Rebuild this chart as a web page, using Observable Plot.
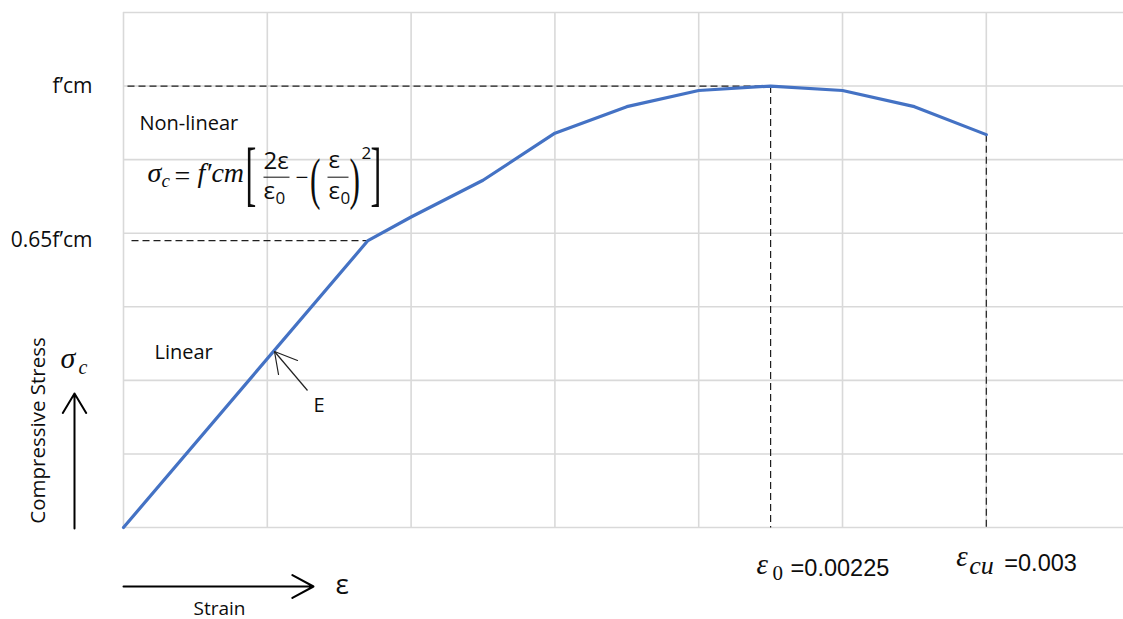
<!DOCTYPE html>
<html>
<head>
<meta charset="utf-8">
<script src="https://cdn.jsdelivr.net/npm/d3@7"></script>
<script src="https://cdn.jsdelivr.net/npm/@observablehq/plot@0.6"></script>
<style>
  html, body { margin: 0; padding: 0; background: #fff; overflow: hidden; }
  #chart svg { display: block; }
</style>
</head>
<body>
<div id="chart"></div>
<script>
// ---- data ----
const strain = [0, 0.00085, 0.001, 0.00125, 0.0015, 0.00175, 0.002, 0.00225, 0.0025, 0.00275, 0.003];
const stress = [0, 19.5, 21.1, 23.6, 26.8, 28.6, 29.7, 30, 29.7, 28.6, 26.7];
const gridStrain = [0, 0.0005, 0.001, 0.0015, 0.002, 0.0025, 0.003];
const gridStress = [0, 5, 10, 15, 20, 25, 30, 35];
const fcm = 30;
const eps0 = 0.00225;
const epsCu = 0.003;
const yTickValues = [19.5, 30];
const yTickLabels = ["0.65f’cm", "f’cm"];

// ---- layout ----
const W = 1123, H = 619, ML = 123, MT = 12, MB = 92, MR = 0;
const xDomain = [0, 0.003477], yDomain = [0, 35];
// helpers to place decorations given in page pixels into data units
const X = p => xDomain[0] + (p - ML) / (W - MR - ML) * (xDomain[1] - xDomain[0]);
const Y = p => yDomain[0] + (H - MB - p) / (H - MB - MT) * (yDomain[1] - yDomain[0]);

const curve = strain.map((s, i) => ({strain: s, stress: stress[i]}));
const last = curve[curve.length - 1];
const guides = [
  {x1: X(127), y1: fcm, x2: eps0, y2: fcm},
  {x1: X(131), y1: stress[1], x2: strain[1], y2: stress[1]},
  {x1: eps0, y1: fcm, x2: eps0, y2: 0},
  {x1: epsCu, y1: last.stress, x2: epsCu, y2: 0}
];

const SANS = "'Open Sans', sans-serif";
const SERIF = "'Liberation Serif', 'DejaVu Serif', serif";
const ARIAL = "'Liberation Sans', Arial, sans-serif";
const INK = "#0d0d0d";

const note = (text, px, py, o = {}) => Plot.text([text], {
  x: X(px), y: Y(py), text: d => d,
  textAnchor: "start", lineAnchor: "bottom",
  fill: INK, fontSize: 20, fontFamily: SANS, ...o
});
// fraction bar of the formula
const bar = (p1, p2, py) => Plot.link([0], {x1: X(p1), x2: X(p2), y1: Y(py), y2: Y(py),
  stroke: "#222", strokeWidth: 1.1});

const plot = Plot.plot({
  width: W, height: H,
  marginLeft: ML, marginTop: MT, marginBottom: MB, marginRight: MR,
  x: {domain: xDomain, axis: null},
  y: {domain: yDomain, axis: null},
  style: {fontFamily: SANS, fontSize: "20px", background: "#fff", color: INK, overflow: "visible"},
  marks: [
    // grid
    Plot.ruleX(gridStrain, {stroke: "#d9d9d9", strokeWidth: 1.6}),
    Plot.ruleY(gridStress, {stroke: "#d9d9d9", strokeWidth: 1.6}),
    // y tick labels
    Plot.axisY(yTickValues, {
      anchor: "left", tickSize: 0, tickPadding: 31, label: null,
      tickFormat: d => yTickLabels[yTickValues.indexOf(d)],
      fontSize: 21, fontFamily: SANS, fill: INK
    }),
    // dashed guides
    Plot.link(guides, {x1: "x1", y1: "y1", x2: "x2", y2: "y2",
      stroke: "#1f1f1f", strokeWidth: 1.2, strokeDasharray: "7,4"}),
    // the curve
    Plot.line(curve, {x: "strain", y: "stress", stroke: "#4472C4", strokeWidth: 3.2,
      strokeLinejoin: "round", strokeLinecap: "round"}),

    // region labels
    note("Non-linear", 139, 129),
    note("Linear", 154, 358),
    note("E", 313, 411),
    // E arrow
    Plot.link([0], {x1: X(307), y1: Y(390), x2: X(274), y2: Y(351), stroke: "#222", strokeWidth: 1.2}),
    Plot.line([[297, 360], [274, 351], [278, 374]].map(([a, b]) => [X(a), Y(b)]),
      {stroke: "#222", strokeWidth: 1.2, strokeLinejoin: "miter"}),

    // formula  σc = f′cm [ 2ε/ε0 − (ε/ε0)^2 ]
    note("σ", 147, 181, {fontFamily: SERIF, fontStyle: "italic", fontSize: 28}),
    note("c", 161, 186, {fontFamily: SERIF, fontStyle: "italic", fontSize: 19}),
    note("=", 174, 184, {fontFamily: SERIF, fontSize: 28}),
    note("f′cm", 197, 181, {fontFamily: SERIF, fontStyle: "italic", fontSize: 28}),
    note("[", 245, 196, {fontFamily: SERIF, fontSize: 72}),
    note("2ε", 263, 168, {fontSize: 24}),
    bar(263, 289, 176.7),
    note("ε", 263, 198, {fontSize: 24}),
    note("0", 275, 203, {fontSize: 17}),
    note("−", 295, 184, {fontFamily: SERIF, fontSize: 23}),
    note("(", 309.5, 197, {fontFamily: SERIF, fontSize: 57}),
    note("ε", 328, 167, {fontSize: 24}),
    bar(327, 348, 176.7),
    note("ε", 328, 198, {fontSize: 24}),
    note("0", 340, 203, {fontSize: 17}),
    note(")", 349, 197, {fontFamily: SERIF, fontSize: 57}),
    note("2", 361, 158, {fontSize: 17}),
    note("]", 370, 196, {fontFamily: SERIF, fontSize: 72}),

    // axis captions
    Plot.text(["Compressive Stress"], {x: X(44), y: Y(430), text: d => d, rotate: -90,
      textAnchor: "middle", lineAnchor: "bottom", fill: INK, fontSize: 20.5, fontFamily: SANS}),
    note("σ", 60, 367, {fontFamily: SERIF, fontStyle: "italic", fontSize: 30}),
    note("c", 78, 373, {fontFamily: SERIF, fontStyle: "italic", fontSize: 20}),
    Plot.arrow([0], {x1: X(74), y1: Y(528), x2: X(74), y2: Y(393),
      stroke: "#000", strokeWidth: 2, headLength: 17, headAngle: 62}),
    Plot.arrow([0], {x1: X(123), y1: Y(586), x2: X(313), y2: Y(586),
      stroke: "#000", strokeWidth: 2, headLength: 18, headAngle: 57}),
    note("ε", 335, 593, {fontSize: 28}),
    note("Strain", 193, 614, {fontSize: 19}),

    // strain value labels
    Plot.text([eps0], {x: d => d, y: Y(573), dx: -14, text: () => "ε", textAnchor: "start",
      lineAnchor: "bottom", fill: INK, fontFamily: SERIF, fontStyle: "italic", fontSize: 29}),
    Plot.text([eps0], {x: d => d, y: Y(579), dx: 2, text: () => "0", textAnchor: "start",
      lineAnchor: "bottom", fill: INK, fontFamily: SERIF, fontSize: 21}),
    Plot.text([eps0], {x: d => d, y: Y(575), dx: 20, text: d => "=" + d, textAnchor: "start",
      lineAnchor: "bottom", fill: INK, fontFamily: ARIAL, fontSize: 23.5}),
    Plot.text([epsCu], {x: d => d, y: Y(565), dx: -30, text: () => "ε", textAnchor: "start",
      lineAnchor: "bottom", fill: INK, fontFamily: SERIF, fontStyle: "italic", fontSize: 29}),
    Plot.text([epsCu], {x: d => d, y: Y(573), dx: -17, text: () => "cu", textAnchor: "start",
      lineAnchor: "bottom", fill: INK, fontFamily: SERIF, fontStyle: "italic", fontSize: 26}),
    Plot.text([epsCu], {x: d => d, y: Y(570), dx: 18, text: d => "=" + d, textAnchor: "start",
      lineAnchor: "bottom", fill: INK, fontFamily: ARIAL, fontSize: 23.5})
  ]
});

// slim the stretchy delimiters horizontally (they stand in for Cambria Math's tall brackets)
plot.querySelectorAll("text").forEach(t => {
  const s = t.textContent;
  if (s === "[" || s === "]") t.setAttribute("transform", (t.getAttribute("transform") || "") + " scale(0.45,1)");
  if (s === "(" || s === ")") t.setAttribute("transform", (t.getAttribute("transform") || "") + " scale(0.55,1)");
});

document.getElementById("chart").appendChild(plot);
</script>
</body>
</html>
